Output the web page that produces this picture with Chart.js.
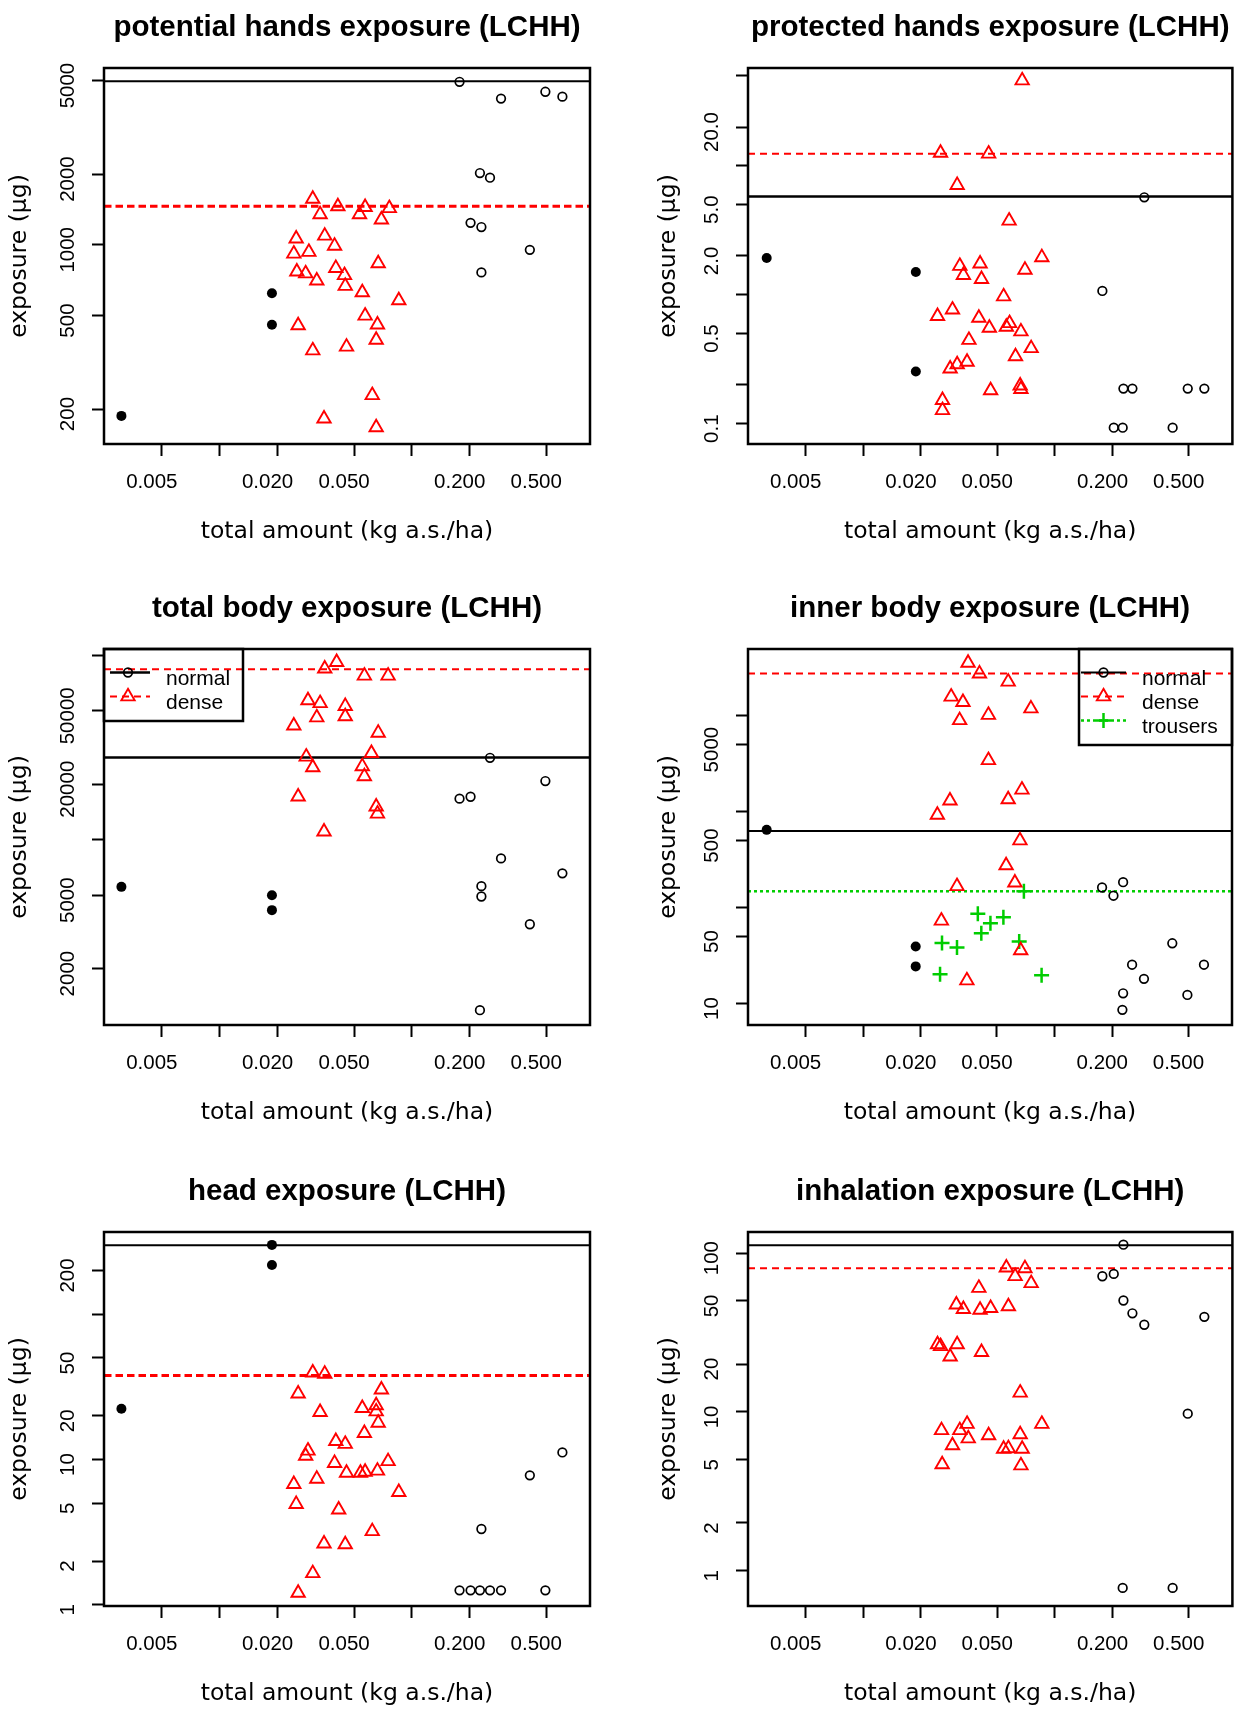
<!DOCTYPE html>
<html>
<head>
<meta charset="utf-8">
<script src="https://cdn.jsdelivr.net/npm/chart.js@4.4.1/dist/chart.umd.min.js"></script>
<style>
  html, body { margin: 0; padding: 0; background: #fff; overflow: hidden; }
  #page { position: relative; width: 1242px; height: 1709px; overflow: hidden; background: #fff; }
  #page canvas { position: absolute; }
</style>
</head>
<body>
<div id="page"></div>
<script>
// shared x axis (log scale, kg a.s./ha)
const xRange = [0.0025, 0.845];
const xTicks = [0.005, 0.01, 0.02, 0.05, 0.1, 0.2, 0.5];
const xTickLabels = ["0.005", "", "0.020", "0.050", "", "0.200", "0.500"];

// potential hands
const potFilledX = [0.00308, 0.0187, 0.0187];
const potFilledY = [187, 622, 457];
const potNormalX = [0.177, 0.291, 0.495, 0.607, 0.226, 0.255, 0.202, 0.230, 0.411, 0.230];
const potNormalY = [4940, 4190, 4480, 4270, 2020, 1930, 1240, 1190, 952, 763];
const potDenseX = [0.0305, 0.0412, 0.0571, 0.0763, 0.0333, 0.0534, 0.0694, 0.0250, 0.0352, 0.0396,
  0.0291, 0.0243, 0.0668, 0.0402, 0.0252, 0.0280, 0.0446, 0.0320, 0.0450, 0.0552,
  0.0855, 0.0571, 0.0256, 0.0662, 0.0652, 0.0305, 0.0457, 0.0622, 0.0349, 0.0652];
const potDenseY = [1567, 1456, 1446, 1431, 1348, 1348, 1279, 1062, 1092, 990,
  932, 916, 833, 796, 769, 755, 742, 704, 668, 627,
  580, 499, 454, 457, 394, 355, 368, 229, 182, 167];
const potLines = [4970, 1460];
const potYRange = [142, 5655];
const potYTicks = [200, 500, 1000, 2000, 5000];
const potYLabels = ["200", "500", "1000", "2000", "5000"];

// protected hands
const proFilledX = [0.00313, 0.0188, 0.0188];
const proFilledY = [1.93, 1.50, 0.254];
const proNormalX = [0.293, 0.177, 0.228, 0.254, 0.494, 0.603, 0.203, 0.226, 0.412];
const proNormalY = [5.70, 1.07, 0.187, 0.187, 0.187, 0.187, 0.093, 0.093, 0.093];
const proDenseX = [0.0675, 0.0253, 0.0451, 0.0309, 0.0577, 0.0855, 0.0319, 0.0407, 0.0698, 0.0333,
  0.0414, 0.0540, 0.0292, 0.0244, 0.0401, 0.0580, 0.0558, 0.0455, 0.0665, 0.0356,
  0.0752, 0.0623, 0.0348, 0.0309, 0.0284, 0.0462, 0.0659, 0.0665, 0.0259, 0.0259];
const proDenseY = [45.9, 12.6, 12.4, 7.09, 3.75, 1.95, 1.67, 1.74, 1.56, 1.42,
  1.32, 0.969, 0.765, 0.682, 0.661, 0.601, 0.563, 0.553, 0.518, 0.445,
  0.384, 0.332, 0.301, 0.288, 0.267, 0.181, 0.197, 0.185, 0.152, 0.127];
const proLines = [5.78, 12.4];
const proYRange = [0.0695, 57.4];
const proYTicks = [0.1, 0.2, 0.5, 1, 2, 5, 10, 20, 50];
const proYLabels = ["0.1", "", "0.5", "", "2.0", "5.0", "", "20.0", ""];

// total body
const totFilledX = [0.00308, 0.0187, 0.0187];
const totFilledY = [5550, 5000, 4150];
const totNormalX = [0.255, 0.495, 0.177, 0.202, 0.291, 0.607, 0.230, 0.230, 0.411, 0.226];
const totNormalY = [27800, 20800, 16700, 17100, 7920, 6570, 5600, 4920, 3480, 1190];
const totDenseX = [0.0406, 0.0352, 0.0566, 0.0752, 0.0288, 0.0333, 0.0450, 0.0450, 0.0320, 0.0243,
  0.0668, 0.0616, 0.0282, 0.0305, 0.0552, 0.0566, 0.0256, 0.0652, 0.0662, 0.0349];
const totDenseY = [91750, 84660, 77450, 77450, 56960, 54960, 53040, 46620, 45990, 41510,
  37970, 29470, 28180, 24660, 24990, 22060, 17120, 15110, 13820, 11060];
const totLines = [27900, 83900];
const totYRange = [989, 108170];
const totYTicks = [2000, 5000, 10000, 20000, 50000, 100000];
const totYLabels = ["2000", "5000", "", "20000", "50000", ""];
const totLegend = ["normal", "dense"];

// inner body
const innFilledX = [0.00313, 0.0188, 0.0188];
const innFilledY = [646, 39.3, 24.4];
const innNormalX = [0.177, 0.203, 0.228, 0.412, 0.254, 0.603, 0.293, 0.228, 0.494, 0.226];
const innNormalY = [162, 133, 184, 42.5, 25.4, 25.4, 18.1, 12.8, 12.3, 8.6];
const innDenseX = [0.0353, 0.0405, 0.0572, 0.0288, 0.0332, 0.0752, 0.0451, 0.0319, 0.0451, 0.0675,
  0.0284, 0.0572, 0.0244, 0.0659, 0.0558, 0.0620, 0.0309, 0.0256, 0.0665, 0.0348];
const innDenseY = [35500, 27460, 22560, 15740, 13840, 11870, 10170, 8950, 3430, 1690,
  1300, 1340, 926, 500, 275, 182, 167, 72.9, 35.8, 17.4];
const innTrousersX = [0.0691, 0.0397, 0.0540, 0.0462, 0.0414, 0.0653, 0.0258, 0.0309, 0.0252, 0.0855];
const innTrousersY = [148, 86.5, 79.4, 68.6, 54.0, 44.4, 42.9, 38.3, 20.2, 19.7];
const innLines = [630, 27500, 148];
const innYRange = [5.98, 49550];
const innYTicks = [10, 50, 100, 500, 1000, 5000, 10000];
const innYLabels = ["10", "50", "", "500", "", "5000", ""];
const innLegend = ["normal", "dense", "trousers"];

// head
const headFilledX = [0.0187, 0.0187, 0.00308];
const headFilledY = [300, 218, 22.4];
const headNormalX = [0.607, 0.411, 0.230, 0.177, 0.202, 0.226, 0.255, 0.291, 0.495];
const headNormalY = [11.2, 7.79, 3.33, 1.26, 1.26, 1.26, 1.26, 1.26, 1.26];
const headDenseX = [0.0305, 0.0352, 0.0694, 0.0256, 0.0552, 0.0652, 0.0652, 0.0333, 0.0668, 0.0566,
  0.0402, 0.0450, 0.0288, 0.0280, 0.0752, 0.0396, 0.0457, 0.0540, 0.0571, 0.0662,
  0.0243, 0.0320, 0.0855, 0.0250, 0.0416, 0.0622, 0.0349, 0.0450, 0.0305, 0.0256];
const headDenseY = [39.6, 38.9, 30.3, 28.4, 22.6, 23.6, 21.4, 21.2, 17.9, 15.2,
  13.4, 12.8, 11.5, 10.6, 9.73, 9.46, 8.10, 8.10, 8.23, 8.37,
  6.78, 7.37, 5.97, 4.94, 4.52, 3.21, 2.64, 2.61, 1.65, 1.21];
const headLines = [298, 37.9];
const headYRange = [0.983, 368];
const headYTicks = [1, 2, 5, 10, 20, 50, 100, 200];
const headYLabels = ["1", "2", "5", "10", "20", "50", "", "200"];

// inhalation
const inhNormalX = [0.228, 0.177, 0.203, 0.228, 0.254, 0.293, 0.603, 0.494, 0.226, 0.412];
const inhNormalY = [113, 71.5, 74.0, 50.3, 41.8, 35.4, 39.7, 9.75, 0.78, 0.78];
const inhDenseX = [0.0558, 0.0698, 0.0620, 0.0752, 0.0401, 0.0306, 0.0333, 0.0407, 0.0462, 0.0572,
  0.0244, 0.0253, 0.0309, 0.0284, 0.0414, 0.0659, 0.0348, 0.0855, 0.0256, 0.0319,
  0.0451, 0.0659, 0.0353, 0.0292, 0.0540, 0.0572, 0.0675, 0.0258, 0.0665];
const inhDenseY = [81.0, 80.2, 71.5, 64.6, 60.3, 47.4, 44.4, 43.9, 45.0, 46.2,
  26.6, 25.9, 26.6, 22.3, 23.8, 13.2, 8.39, 8.39, 7.66, 7.66,
  7.11, 7.22, 6.80, 6.15, 5.85, 5.90, 5.85, 4.67, 4.60];
const inhLines = [112, 80.2];
const inhYRange = [0.640, 135.8];
const inhYTicks = [1, 2, 5, 10, 20, 50, 100];
const inhYLabels = ["1", "2", "5", "10", "20", "50", "100"];

Chart.defaults.font.family = "Liberation Sans";
Chart.defaults.color = "#000";

const RED = "#ff0000";
const GREEN = "#00cd00";
const TICK_SIZE = 20.5;
const LAB_SIZE = 23.5;

function pts(xs, ys) {
  return xs.map((x, i) => ({ x: x, y: ys[i] }));
}
function hline(v) {
  return [{ x: xRange[0], y: v }, { x: xRange[1], y: v }];
}

function normalSet(xs, ys) {
  return { type: "scatter", data: pts(xs, ys), pointStyle: "circle", pointRadius: 4.3,
    borderColor: "#000", backgroundColor: "rgba(0,0,0,0)", borderWidth: 1.7 };
}
function denseSet(xs, ys) {
  return { type: "scatter", data: pts(xs, ys), pointStyle: "triangle", pointRadius: 7.7,
    borderColor: RED, backgroundColor: "rgba(0,0,0,0)", borderWidth: 1.9 };
}
function filledSet(xs, ys) {
  return { type: "scatter", data: pts(xs, ys), pointStyle: "circle", pointRadius: 5,
    borderColor: "#000", backgroundColor: "#000", borderWidth: 0 };
}
function trousersSet(xs, ys) {
  return { type: "scatter", data: pts(xs, ys), pointStyle: "cross", pointRadius: 7.5,
    borderColor: GREEN, backgroundColor: GREEN, borderWidth: 2.5 };
}
function lineSet(v, color, width, dash) {
  return { type: "line", data: hline(v), showLine: true, pointRadius: 0, borderColor: color,
    borderWidth: width, borderDash: dash, fill: false, tension: 0 };
}

// box around the plot region
const rBox = {
  id: "rBox",
  afterDraw(chart) {
    const { ctx, chartArea: a } = chart;
    ctx.save();
    ctx.lineWidth = 2.5;
    ctx.strokeStyle = "#000";
    ctx.strokeRect(a.left, a.top, a.right - a.left, a.bottom - a.top);
    ctx.restore();
  }
};

// R style legend: line sample with the marker on it
const rLegend = {
  id: "rLegend",
  afterDraw(chart, args, opts) {
    if (!opts.labels) return;
    const { ctx, chartArea } = chart;
    const left = opts.corner === "right" ? chartArea.right - opts.width : chartArea.left;
    const top = chartArea.top;
    ctx.save();
    ctx.lineWidth = 2.5;
    ctx.strokeStyle = "#000";
    ctx.strokeRect(left, top, opts.width, opts.height);
    opts.labels.forEach((text, i) => {
      const y = top + 23.5 + i * 24;
      const ld = chart.data.datasets[opts.lineSets[i]];
      const pd = chart.data.datasets[opts.pointSets[i]];
      ctx.beginPath();
      ctx.setLineDash(ld.borderDash || []);
      ctx.lineWidth = ld.borderWidth;
      ctx.strokeStyle = ld.borderColor;
      ctx.moveTo(left + opts.lineFrom, y);
      ctx.lineTo(left + opts.lineTo, y);
      ctx.stroke();
      ctx.setLineDash([]);
      ctx.strokeStyle = pd.borderColor;
      ctx.fillStyle = pd.backgroundColor;
      ctx.lineWidth = pd.borderWidth;
      Chart.helpers.drawPoint(ctx, { pointStyle: pd.pointStyle, radius: pd.pointRadius,
        borderWidth: pd.borderWidth, rotation: 0 }, left + opts.marker, y);
      ctx.fillStyle = "#000";
      ctx.font = '21px "Liberation Sans"';
      ctx.textBaseline = "middle";
      ctx.textAlign = "left";
      ctx.fillText(text, left + opts.textX, y + 7);
    });
    ctx.restore();
  }
};

const measure = document.createElement("canvas").getContext("2d");
measure.font = TICK_SIZE + 'px "Liberation Sans"';

const colLeft = { plotLeft: 104, yW: 104, width: 600, padRight: 10, yTitlePad: 5.5 };
const colRight = { plotLeft: 748, yW: 98, width: 592, padRight: 8, yTitlePad: 4.5 };
const rows = [{ top: 68, h: 376 }, { top: 649, h: 376 }, { top: 1232, h: 374 }];

const panels = [
  { col: colLeft, row: rows[0], title: "potential hands exposure (LCHH)",
    yRange: potYRange, yTicks: potYTicks, yLabels: potYLabels,
    datasets: [filledSet(potFilledX, potFilledY), normalSet(potNormalX, potNormalY), denseSet(potDenseX, potDenseY),
      lineSet(potLines[0], "#000", 2, []), lineSet(potLines[1], RED, 3, [7.5, 4])] },
  { col: colRight, row: rows[0], title: "protected hands exposure (LCHH)",
    yRange: proYRange, yTicks: proYTicks, yLabels: proYLabels,
    datasets: [filledSet(proFilledX, proFilledY), normalSet(proNormalX, proNormalY), denseSet(proDenseX, proDenseY),
      lineSet(proLines[0], "#000", 2.5, []), lineSet(proLines[1], RED, 2, [7, 5])] },
  { col: colLeft, row: rows[1], title: "total body exposure (LCHH)",
    yRange: totYRange, yTicks: totYTicks, yLabels: totYLabels,
    legend: { labels: totLegend, pointSets: [1, 2], lineSets: [3, 4], corner: "left", width: 139, height: 72,
      lineFrom: 6, lineTo: 46, marker: 24, textX: 62 },
    datasets: [filledSet(totFilledX, totFilledY), normalSet(totNormalX, totNormalY), denseSet(totDenseX, totDenseY),
      lineSet(totLines[0], "#000", 2.5, []), lineSet(totLines[1], RED, 2, [7, 5])] },
  { col: colRight, row: rows[1], title: "inner body exposure (LCHH)",
    yRange: innYRange, yTicks: innYTicks, yLabels: innYLabels,
    legend: { labels: innLegend, pointSets: [1, 2, 3], lineSets: [4, 5, 6], corner: "right", width: 153, height: 96,
      lineFrom: 2, lineTo: 47, marker: 24.5, textX: 63 },
    datasets: [filledSet(innFilledX, innFilledY), normalSet(innNormalX, innNormalY), denseSet(innDenseX, innDenseY),
      trousersSet(innTrousersX, innTrousersY),
      lineSet(innLines[0], "#000", 2, []), lineSet(innLines[1], RED, 2, [7, 5]), lineSet(innLines[2], GREEN, 2.5, [3, 3])] },
  { col: colLeft, row: rows[2], title: "head exposure (LCHH)",
    yRange: headYRange, yTicks: headYTicks, yLabels: headYLabels,
    datasets: [filledSet(headFilledX, headFilledY), normalSet(headNormalX, headNormalY), denseSet(headDenseX, headDenseY),
      lineSet(headLines[0], "#000", 2, []), lineSet(headLines[1], RED, 3, [7.5, 4])] },
  { col: colRight, row: rows[2], title: "inhalation exposure (LCHH)",
    yRange: inhYRange, yTicks: inhYTicks, yLabels: inhYLabels,
    datasets: [normalSet(inhNormalX, inhNormalY), denseSet(inhDenseX, inhDenseY),
      lineSet(inhLines[0], "#000", 2, []), lineSet(inhLines[1], RED, 2, [7, 5])] }
];

const page = document.getElementById("page");

panels.forEach(p => {
  const canvas = document.createElement("canvas");
  const h = 70 + p.row.h + 105;
  canvas.width = p.col.width;
  canvas.height = h;
  canvas.style.left = (p.col.plotLeft - p.col.yW) + "px";
  canvas.style.top = (p.row.top - 70) + "px";
  page.appendChild(canvas);

  const widest = Math.max(...p.yLabels.map(l => measure.measureText(l).width));

  new Chart(canvas.getContext("2d"), {
    type: "scatter",
    data: { datasets: p.datasets },
    options: {
      responsive: false,
      animation: false,
      events: [],
      layout: { padding: { left: 0, top: 0, bottom: 0, right: p.col.padRight } },
      plugins: {
        legend: { display: false },
        tooltip: { enabled: false },
        title: {
          display: true, fullSize: false, text: p.title, color: "#000",
          font: { family: "Liberation Sans", weight: "bold", size: 29.5, lineHeight: 1.2 },
          padding: { top: 12, bottom: 22.6 }
        },
        rLegend: p.legend || {}
      },
      scales: {
        x: {
          type: "logarithmic", position: "bottom", min: xRange[0], max: xRange[1],
          afterBuildTicks: s => { s.ticks = xTicks.map(v => ({ value: v })); },
          afterFit: s => { s.height = 105; s.paddingLeft = 0; s.paddingRight = 0; },
          grid: { display: true, drawOnChartArea: false, drawTicks: true, tickLength: 12, tickWidth: 2, tickColor: "#000" },
          border: { display: false },
          ticks: {
            autoSkip: false, minRotation: 0, maxRotation: 0, padding: 14.2, labelOffset: -10, color: "#000",
            font: { family: "Liberation Sans", size: TICK_SIZE },
            callback: (v, i) => xTickLabels[i]
          },
          title: {
            display: true, text: "total amount (kg a.s./ha)", color: "#000",
            font: { family: "DejaVu Sans", size: LAB_SIZE, lineHeight: 1.2 },
            padding: { top: 0, bottom: 3.4 }
          }
        },
        y: {
          type: "logarithmic", position: "left", min: p.yRange[0], max: p.yRange[1],
          afterBuildTicks: s => { s.ticks = p.yTicks.map(v => ({ value: v })); },
          afterFit: s => { s.width = p.col.yW; s.paddingTop = 0; s.paddingBottom = 0; },
          grid: { display: true, drawOnChartArea: false, drawTicks: true, tickLength: 12, tickWidth: 2, tickColor: "#000" },
          border: { display: false },
          ticks: {
            autoSkip: false, minRotation: 90, maxRotation: 90, crossAlign: "center",
            padding: 23.5 - widest / 2, labelOffset: 5, color: "#000",
            font: { family: "Liberation Sans", size: TICK_SIZE },
            callback: (v, i) => p.yLabels[i]
          },
          title: {
            display: true, text: "exposure (µg)", color: "#000",
            font: { family: "DejaVu Sans", size: LAB_SIZE, lineHeight: 1.2 },
            padding: { top: p.col.yTitlePad, bottom: 0 }
          }
        }
      }
    },
    plugins: [rBox, rLegend]
  });
});
</script>
</body>
</html>
